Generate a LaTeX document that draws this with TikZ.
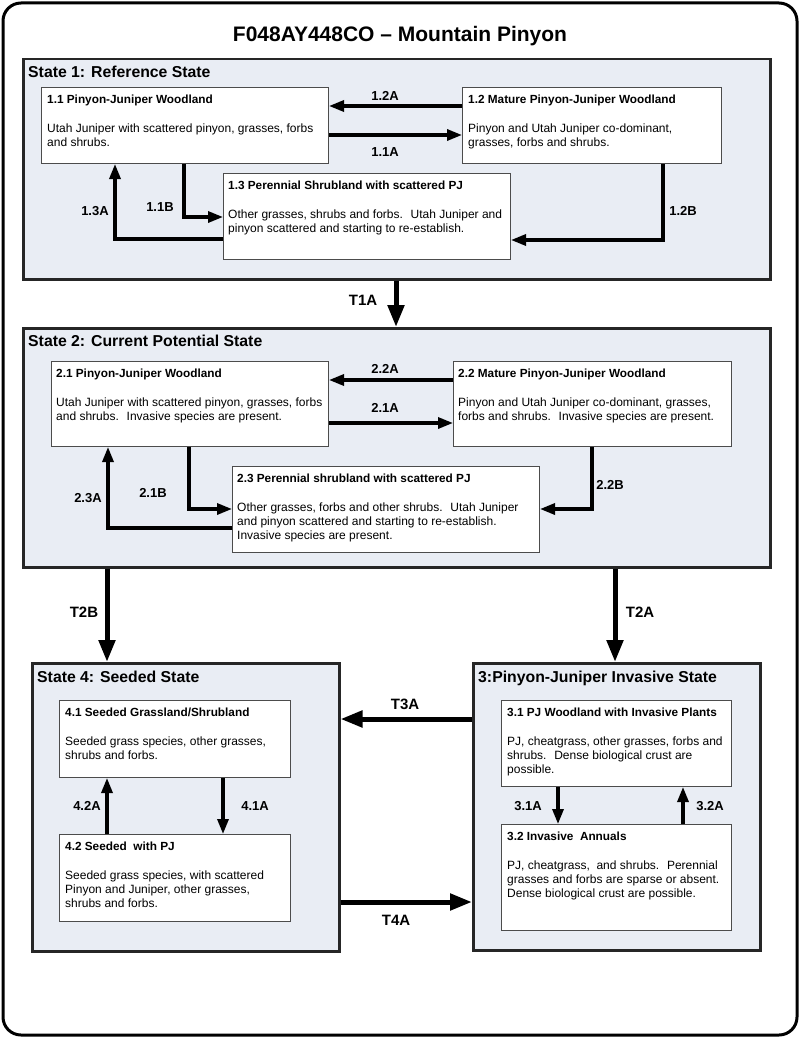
\documentclass[tikz,border=0pt]{standalone}
\usepackage{fontspec}
\setmainfont{Liberation Sans}
\usetikzlibrary{arrows.meta}
\definecolor{statefill}{RGB}{233,237,244}
\tikzset{
  statebox/.style={draw=black!85, line width=2.5pt, fill=statefill, rectangle, anchor=north west, inner sep=0pt},
  stbox/.style={draw=black!70, line width=1pt, fill=white, rectangle, anchor=north west, inner sep=0pt},
  sttext/.style={anchor=north west, align=left, inner sep=0pt, font=\fontsize{12}{14}\selectfont},
  sttitle/.style={anchor=base west, inner sep=0pt, font=\bfseries\fontsize{15.8}{18}\selectfont},
  arr/.style={line width=3.2pt, -{Triangle[length=15pt,width=11pt]}},
  tarr/.style={line width=5pt, -{Triangle[length=22pt,width=16pt]}},
  lbl/.style={inner sep=0pt, font=\bfseries\fontsize{13}{15}\selectfont},
  tlbl/.style={inner sep=0pt, font=\bfseries\fontsize{15}{17}\selectfont},
}
\newcommand{\gtitle}[1]{{\fontsize{11.8}{14}\selectfont\textbf{#1}}\\[15pt]}
\begin{document}
\begin{tikzpicture}[x=1pt,y=-1pt]
\useasboundingbox (0,0) rectangle (800,1038);
% outer frame
\draw[line width=3pt, rounded corners=18pt] (3,3) rectangle (797,1035);
\node[inner sep=0pt, anchor=base, font=\bfseries\fontsize{21}{24}\selectfont] (title) at (400,42) {F048AY448CO -- Mountain Pinyon};

% states
\node[statebox, minimum width=747pt, minimum height=220pt] (s1) at (22,58) {};
\node[statebox, minimum width=747pt, minimum height=239pt] (s2) at (22,327) {};
\node[statebox, minimum width=307pt, minimum height=288pt] (s4) at (31,662) {};
\node[statebox, minimum width=287pt, minimum height=287pt] (s3) at (472,662) {};
\node[sttitle] (s1t) at (28,78) {State 1: Reference State};
\node[sttitle] (s2t) at (28,346) {State 2: Current Potential State};
\node[sttitle] (s4t) at (37,682) {State 4: Seeded State};
\node[sttitle] (s3t) at (478,682) {3:Pinyon-Juniper Invasive State};

% community boxes
\node[stbox, minimum width=287pt, minimum height=76pt] (b11) at (41,87) {};
\node[stbox, minimum width=259pt, minimum height=76pt] (b12) at (462,87) {};
\node[stbox, minimum width=287pt, minimum height=86pt] (b13) at (223,173) {};
\node[stbox, minimum width=277pt, minimum height=85pt] (b21) at (51,361) {};
\node[stbox, minimum width=278pt, minimum height=85pt] (b22) at (453,361) {};
\node[stbox, minimum width=307pt, minimum height=86pt] (b23) at (232,466) {};
\node[stbox, minimum width=231pt, minimum height=77pt] (b41) at (59,700) {};
\node[stbox, minimum width=231pt, minimum height=87pt] (b42) at (59,834) {};
\node[stbox, minimum width=230pt, minimum height=86pt] (b31) at (501,700) {};
\node[stbox, minimum width=230pt, minimum height=106pt] (b32) at (501,824) {};

\node[sttext] (t11) at ([xshift=6pt,yshift=-8pt]b11.north west) {\gtitle{1.1 Pinyon-Juniper Woodland}Utah Juniper with scattered pinyon, grasses, forbs\\and shrubs.};
\node[sttext] (t12) at ([xshift=6pt,yshift=-8pt]b12.north west) {\gtitle{1.2 Mature Pinyon-Juniper Woodland}Pinyon and Utah Juniper co-dominant,\\grasses, forbs and shrubs.};
\node[sttext] (t13) at ([xshift=5pt,yshift=-8pt]b13.north west) {\gtitle{1.3 Perennial Shrubland with scattered PJ}Other grasses, shrubs and forbs.~ Utah Juniper and\\pinyon scattered and starting to re-establish.};
\node[sttext] (t21) at ([xshift=5pt,yshift=-7.5pt]b21.north west) {\gtitle{2.1 Pinyon-Juniper Woodland}Utah Juniper with scattered pinyon, grasses, forbs\\and shrubs.~ Invasive species are present.};
\node[sttext] (t22) at ([xshift=5pt,yshift=-7.5pt]b22.north west) {\gtitle{2.2 Mature Pinyon-Juniper Woodland}Pinyon and Utah Juniper co-dominant, grasses,\\forbs and shrubs.~ Invasive species are present.};
\node[sttext] (t23) at ([xshift=5pt,yshift=-7.5pt]b23.north west) {\gtitle{2.3 Perennial shrubland with scattered PJ}Other grasses, forbs and other shrubs.~ Utah Juniper\\and pinyon scattered and starting to re-establish.\\Invasive species are present.};
\node[sttext] (t41) at ([xshift=6pt,yshift=-7.5pt]b41.north west) {\gtitle{4.1 Seeded Grassland/Shrubland}Seeded grass species, other grasses,\\shrubs and forbs.};
\node[sttext] (t42) at ([xshift=6pt,yshift=-7.5pt]b42.north west) {\gtitle{4.2 Seeded~ with PJ}Seeded grass species, with scattered\\Pinyon and Juniper, other grasses,\\shrubs and forbs.};
\node[sttext] (t31) at ([xshift=6pt,yshift=-7.5pt]b31.north west) {\gtitle{3.1 PJ Woodland with Invasive Plants}PJ, cheatgrass, other grasses, forbs and\\shrubs.~ Dense biological crust are\\possible.};
\node[sttext] (t32) at ([xshift=6pt,yshift=-7.5pt]b32.north west) {\gtitle{3.2 Invasive~ Annuals}PJ, cheatgrass,~ and shrubs.~ Perennial\\grasses and forbs are sparse or absent.\\Dense biological crust are possible.};

% state 1 arrows
\draw[arr] (b12.west |- 0,106) -- (b11.east |- 0,106);
\draw[arr] (b11.east |- 0,135) -- (b12.west |- 0,135);
\draw[arr] (b11.south -| 184,0) |- (b13.west |- 0,217);
\draw[arr] (b13.west |- 0,239) -| (b11.south -| 115,0);
\draw[arr] (b12.south -| 663,0) |- (b13.east |- 0,240);
\node[lbl] (l12a) at (385,96) {1.2A};
\node[lbl] (l11a) at (385,152) {1.1A};
\node[lbl] (l11b) at (160,207) {1.1B};
\node[lbl] (l13a) at (95,211) {1.3A};
\node[lbl] (l12b) at (683,211) {1.2B};

% state 2 arrows
\draw[arr] (b22.west |- 0,380) -- (b21.east |- 0,380);
\draw[arr] (b21.east |- 0,423) -- (b22.west |- 0,423);
\draw[arr] (b21.south -| 189,0) |- (b23.west |- 0,509);
\draw[arr] (b23.west |- 0,528) -| (b21.south -| 108,0);
\draw[arr] (b22.south -| 592,0) |- (b23.east |- 0,509);
\node[lbl] (l22a) at (385,369) {2.2A};
\node[lbl] (l21a) at (385,408) {2.1A};
\node[lbl] (l21b) at (153,493) {2.1B};
\node[lbl] (l23a) at (88,498) {2.3A};
\node[lbl] (l22b) at (610,485) {2.2B};

% state 4 arrows
\draw[arr] (b42.north -| 107,0) -- (b41.south -| 107,0);
\draw[arr] (b41.south -| 223,0) -- (b42.north -| 223,0);
\node[lbl] (l42a) at (87,806) {4.2A};
\node[lbl] (l41a) at (255,806) {4.1A};

% state 3 arrows
\draw[arr] (b31.south -| 558,0) -- (b32.north -| 558,0);
\draw[arr] (b32.north -| 683,0) -- (b31.south -| 683,0);
\node[lbl] (l31a) at (528,806) {3.1A};
\node[lbl] (l32a) at (710,806) {3.2A};

% transitions
\draw[tarr] (s1.south -| 396,0) -- (s2.north -| 396,0);
\draw[tarr] (s2.south -| 107,0) -- (s4.north -| 107,0);
\draw[tarr] (s2.south -| 615,0) -- (s3.north -| 615,0);
\draw[tarr] (s3.west |- 0,719) -- (s4.east |- 0,719);
\draw[tarr] (s4.east |- 0,902) -- (s3.west |- 0,902);
\node[tlbl] (lt1a) at (363,300) {T1A};
\node[tlbl] (lt2b) at (84,612) {T2B};
\node[tlbl] (lt2a) at (640,612) {T2A};
\node[tlbl] (lt3a) at (405,704) {T3A};
\node[tlbl] (lt4a) at (396,920) {T4A};
\end{tikzpicture}
\end{document}
